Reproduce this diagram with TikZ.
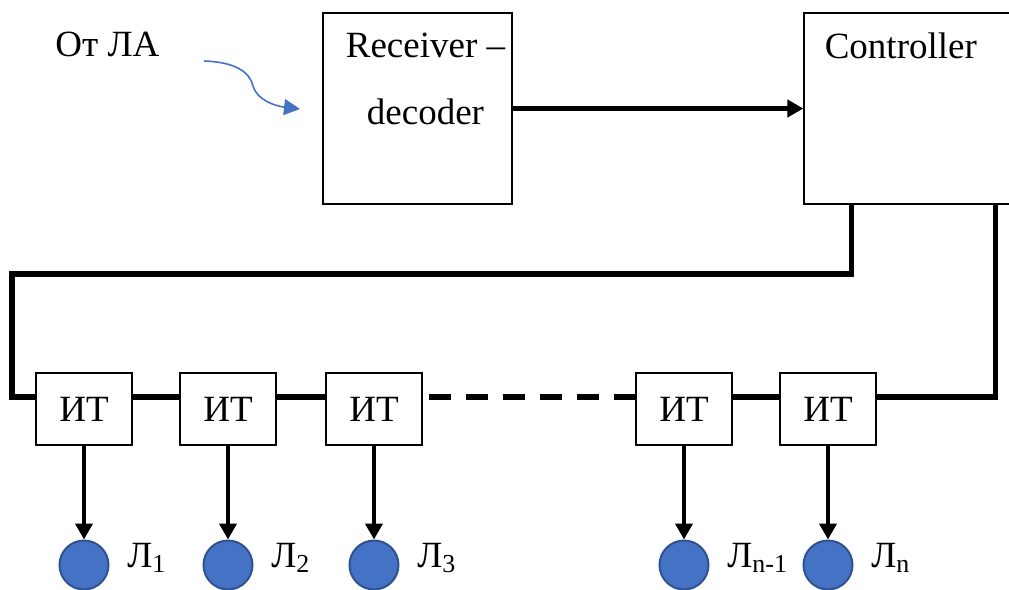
\documentclass[tikz,border=0pt]{standalone}
\usepackage{fontspec}
\setmainfont{Liberation Serif}
\usetikzlibrary{arrows.meta, positioning, calc}
\definecolor{lampblue}{HTML}{4472C4}
\definecolor{lampedge}{HTML}{2F528F}
\tikzset{
  >={Triangle[length=8pt, width=8.5pt]},
  txt/.style={font=\fontsize{18.5}{22}\selectfont, inner sep=0pt},
  blk/.style={rectangle, draw=black, line width=0.6pt, fill=white},
  itbox/.style={blk, minimum width=48pt, minimum height=36pt, txt},
  lamp/.style={circle, fill=lampblue, draw=lampedge, line width=1pt, minimum size=24.5pt, inner sep=0pt},
  sig/.style={->, line width=2.3pt},
  bus/.style={line width=2.6pt},
  busd/.style={bus, dash pattern=on 11pt off 7.5pt, dash phase=15.5pt},
  feed/.style={-{Triangle[length=8pt, width=8pt]}, draw=lampblue, line width=0.8pt},
  lbl/.style={txt, anchor=base west},
}
\begin{document}
\begin{tikzpicture}[x=0.5pt, y=-0.5pt]
  \useasboundingbox (0,0) rectangle (1009,590);
  \clip (0,0) rectangle (1009,590);
  % main blocks
  \node[blk, minimum width=94.5pt, minimum height=95.5pt] (rx) at (417.5,108.5) {};
  \node[blk, minimum width=108pt, minimum height=95.5pt] (ctrl) at (912,108.5) {};
  \node[txt, align=center, anchor=north] (rxt) at ($(rx.north)+(8,20)$) {Receiver --\\[11.5pt]decoder};
  \node[txt, anchor=north west] (ctrlt) at ($(ctrl.north west)+(21,20)$) {Controller};
  \draw[sig] (rx) -- (ctrl);
  % input
  \node[txt, anchor=north west] (src) at (55,32) {От ЛА};
  \coordinate (fin) at (204,61);
  \coordinate (fout) at (300,109);
  \draw[feed] (fin) .. controls (235,62) and (250,72) .. (253,86)
    .. controls (257,100) and (275,106) .. (fout);
  % key transistors and lamps
  \foreach \n/\x/\s in {1/84/1, 2/228/2, 3/374/3, 4/684/n-1, 5/828/n}{
    \node[itbox] (it\n) at (\x,409) {ИТ};
    \node[lamp] (l\n) at (\x,565) {};
    \draw[sig] (it\n) -- (l\n);
    \node[lbl] (t\n) at ($(l\n)+(43,2)$) {Л\textsubscript{\s}};
  }
  % bus
  \coordinate (lev) at (0,397);
  \coordinate (ret) at (12,274);
  \draw[bus] ([xshift=24pt]ctrl.south west) |- (ret) |- (it1.west |- lev);
  \draw[bus] (it1.east |- lev) -- (it2.west |- lev);
  \draw[bus] (it2.east |- lev) -- (it3.west |- lev);
  \draw[busd] (it3.east |- lev) -- (it4.west |- lev);
  \draw[bus] (it4.east |- lev) -- (it5.west |- lev);
  \draw[bus] (it5.east |- lev) -| ([xshift=96pt]ctrl.south west);
\end{tikzpicture}
\end{document}
